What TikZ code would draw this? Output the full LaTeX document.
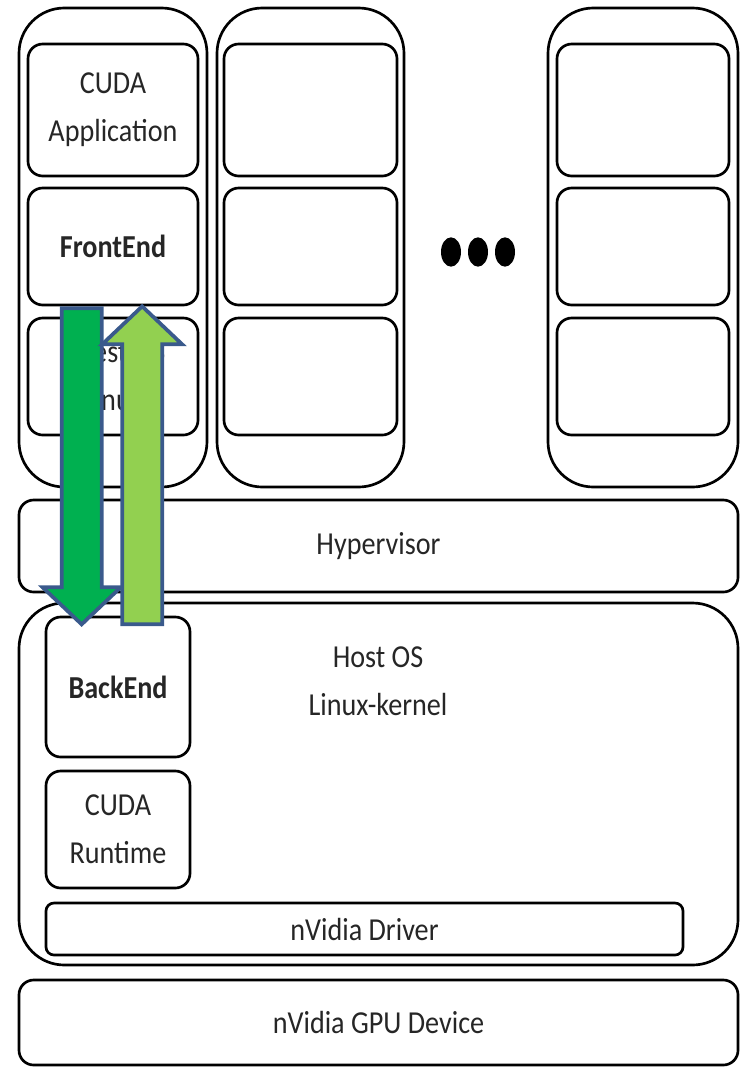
\documentclass[tikz,border=0pt]{standalone}
\usepackage{fontspec}
\setmainfont{Carlito}[FakeStretch=0.88]
\usetikzlibrary{calc}
\definecolor{darkgreen}{RGB}{0,176,80}
\definecolor{lightgreen}{RGB}{146,208,80}
\definecolor{arrowblue}{RGB}{58,90,140}

\begin{document}
\begin{tikzpicture}[x=0.75pt,y=-0.75pt,line cap=round,
  box/.style={draw,line width=2pt,rounded corners=11pt,inner sep=0pt,align=center,
    font=\fontsize{24}{36}\selectfont,text=black!85},
  vm/.style={draw,line width=2pt,rounded corners=34pt,inner sep=0pt},
  sz/.style 2 args={minimum width=#1*0.75pt,minimum height=#2*0.75pt},
  downarr/.style={draw=arrowblue,fill=darkgreen,line width=2.8pt,line join=miter},
  uparr/.style={draw=arrowblue,fill=lightgreen,line width=2.8pt,line join=miter}]
\useasboundingbox (0,0) rectangle (744,1068);
% virtual machines
\node[vm,sz={188}{479}] (vm1) at (113,247.5) {};
\node[vm,sz={187}{479}] (vm2) at (310.5,247.5) {};
\node[vm,sz={190}{479}] (vm3) at (643,247.5) {};
\node[box,sz={170}{132}] (app) at (113,110) {CUDA\\Application};
\node[box,sz={170}{117}] (fe) at (113,246.5) {\bfseries FrontEnd};
\node[box,sz={170}{117}] (guest) at (113,376.5) {Guest OS\\Linux};
\node[box,sz={173}{132}] (b21) at (310.5,110) {};
\node[box,sz={173}{117}] (b22) at (310.5,246.5) {};
\node[box,sz={173}{117}] (b23) at (310.5,376.5) {};
\node[box,sz={172}{132}] (b31) at (643,110) {};
\node[box,sz={172}{117}] (b32) at (643,246.5) {};
\node[box,sz={172}{117}] (b33) at (643,376.5) {};
\foreach \x in {451,478,505}
  \fill (\x,252) ellipse [x radius=7.5pt,y radius=11pt];
% hypervisor and host
\node[box,sz={719}{92}] (hyp) at (378.5,546) {Hypervisor};
\node[vm,sz={719}{362}] (host) at (378.5,784) {};
\node[box,draw=none,align=center] (hosttxt) at (378,681) {Host OS\\Linux-kernel};
\node[box,sz={144}{140}] (be) at (118,687) {\bfseries BackEnd};
\node[box,sz={144}{117}] (rt) at (118,829.5) {CUDA\\Runtime};
\node[box,sz={637}{52},rounded corners=6pt] (drv) at (364.5,929) {nVidia Driver};
\node[box,sz={719}{85}] (gpu) at (378.5,1022.5) {nVidia GPU Device};
% calls between front end and back end
\draw[downarr] ($(fe.south west)+(35,2)$) -- ++(40,0) -- ++(0,279) -- ++(19,0)
  -- ++(-39,37) -- ++(-39,-37) -- ++(19,0) -- cycle;
\draw[uparr] ($(fe.south west)+(115.5,0)$) -- ++(40,38) -- ++(-20,0) -- ++(0,280)
  -- ++(-40,0) -- ++(0,-280) -- ++(-20,0) -- cycle;
\end{tikzpicture}
\end{document}
